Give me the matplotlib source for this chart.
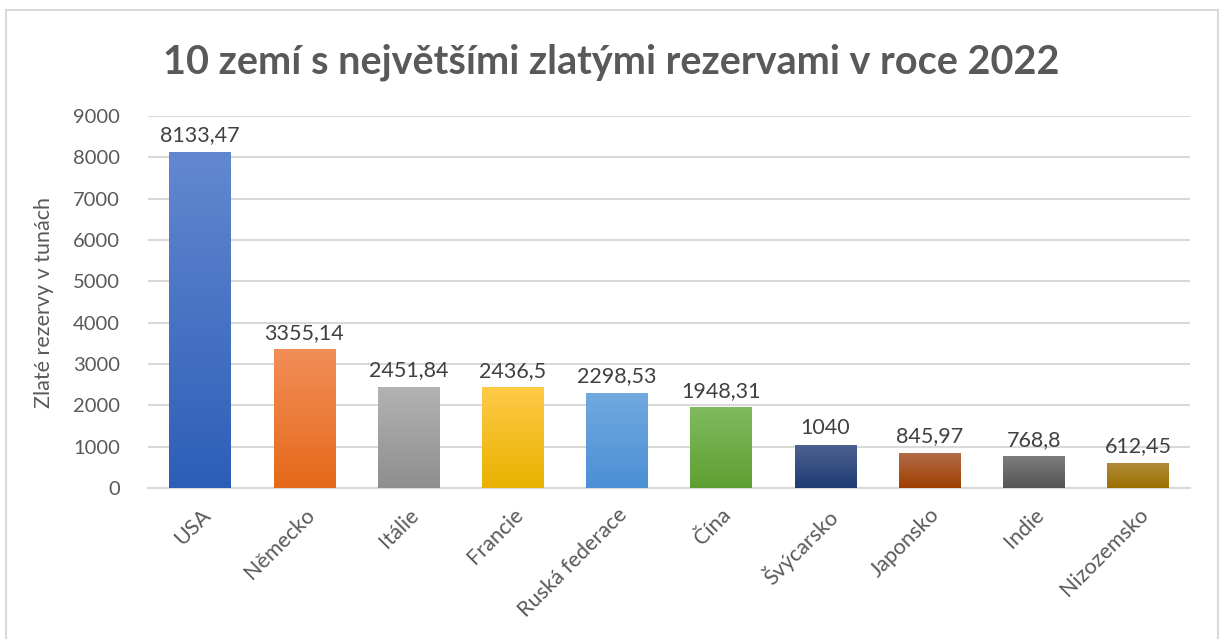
import matplotlib
matplotlib.use("Agg")
import matplotlib.pyplot as plt
import numpy as np
from matplotlib.colors import LinearSegmentedColormap
from matplotlib.patches import Rectangle

plt.rcParams["font.family"] = ["Lato", "DejaVu Sans"]

countries = ["USA", "Německo", "Itálie", "Francie", "Ruská federace",
             "Čína", "Švýcarsko", "Japonsko", "Indie", "Nizozemsko"]
reserves = [8133.47, 3355.14, 2451.84, 2436.5, 2298.53,
            1948.31, 1040, 845.97, 768.8, 612.45]
# (top, bottom) gradient colours per bar, Excel-ish
top_colors = ["#6288D0", "#F28E58", "#B3B3B3", "#FFCA48", "#72A9E0",
              "#7FBB5E", "#4E6290", "#B26C48", "#7D7D7D", "#B08B3C"]
bottom_colors = ["#2D5EB7", "#E5691A", "#8E8E8E", "#E9B100", "#4B8FD5",
                 "#5E9F31", "#1E3B73", "#9F3F00", "#545454", "#9C7100"]

_INK = "#595959"
_GRID = "#D9D9D9"

fig = plt.figure(figsize=(12.22, 6.39), dpi=100)
fig.patches.append(Rectangle((6 / 1222, -0.01), 1212 / 1222, 1 - 10 / 639 + 0.01,
                             transform=fig.transFigure, fill=False,
                             edgecolor=_GRID, linewidth=1.5))
ax = fig.add_axes([148 / 1222, 1 - 488 / 639, 1042 / 1222, (488 - 116) / 639])

x = np.arange(len(countries))
width = 0.59
bars = ax.bar(x, reserves, width=width, color="none", zorder=3)
grad = np.linspace(0, 1, 256).reshape(-1, 1)
for b, c_top, c_bot in zip(bars, top_colors, bottom_colors):
    cmap = LinearSegmentedColormap.from_list("g", [c_bot, c_top])
    x0, w, h = b.get_x(), b.get_width(), b.get_height()
    im = ax.imshow(grad, cmap=cmap, aspect="auto", origin="lower",
                   extent=(x0, x0 + w, 0, h), zorder=3)
    im.set_clip_path(b)

for xi, v in zip(x, reserves):
    ax.text(xi, v + 160, f"{v:g}".replace(".", ","), ha="center", va="bottom",
            fontsize=15.5, color="#404040")

ax.set_xlim(-0.5, len(countries) - 0.5)
ax.set_ylim(0, 9000)
ax.set_yticks(np.arange(0, 9001, 1000))
ax.tick_params(axis="y", length=0, labelsize=14.5, labelcolor=_INK, pad=20)
ax.tick_params(axis="x", length=0, labelsize=15.5, labelcolor=_INK, pad=12)
ax.set_xticks(x)
ax.set_xticklabels(countries, rotation=45, ha="right", rotation_mode="anchor")
ax.grid(axis="y", color=_GRID, linewidth=1.5, zorder=0)
ax.set_axisbelow(True)
for name, spine in ax.spines.items():
    spine.set_visible(name == "bottom")
ax.spines["bottom"].set_color(_GRID)
ax.spines["bottom"].set_linewidth(1.5)

ax.set_ylabel("Zlaté rezervy v tunách", fontsize=15.5, color=_INK, labelpad=14)
fig.text(0.5, 1 - 62 / 639, "10 zemí s největšími zlatými rezervami v roce 2022",
         ha="center", va="center", fontsize=28.5, fontweight="bold", color=_INK)

fig.savefig("out.png", dpi=100)
